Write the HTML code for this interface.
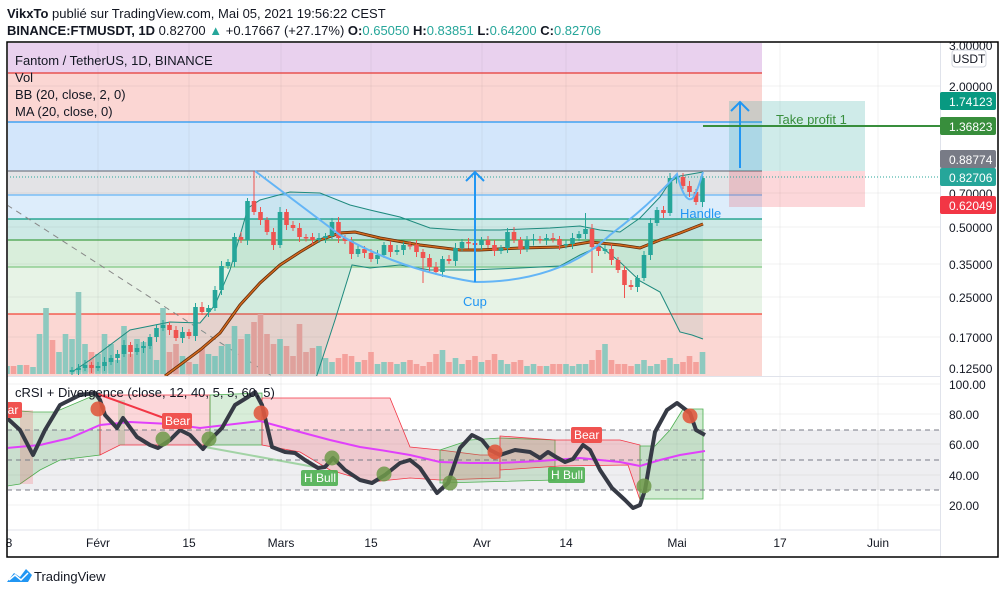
<!DOCTYPE html>
<html><head><meta charset="utf-8"><style>
body{margin:0;background:#fff;width:1006px;height:594px;overflow:hidden;font-family:"Liberation Sans",sans-serif}
svg{position:absolute;left:0;top:0}
text{font-family:"Liberation Sans",sans-serif}
</style></head><body>
<svg id="s" width="1006" height="594" viewBox="0 0 1006 594" xmlns="http://www.w3.org/2000/svg">
<defs>
<clipPath id="mp"><rect x="8" y="43" width="932" height="333"/></clipPath>
<clipPath id="rp"><rect x="8" y="377" width="932" height="153"/></clipPath>
</defs>
<text x="7" y="18" font-size="13" fill="#131722"><tspan font-weight="bold">VikxTo</tspan> publié sur TradingView.com, Mai 05, 2021 19:56:22 CEST</text>
<text x="7" y="35" font-size="13" fill="#131722"><tspan font-weight="bold">BINANCE:FTMUSDT, 1D</tspan> 0.82700 <tspan fill="#26a69a">▲</tspan> +0.17667 (+27.17%) <tspan font-weight="bold">O:</tspan><tspan fill="#26a69a">0.65050</tspan> <tspan font-weight="bold">H:</tspan><tspan fill="#26a69a">0.83851</tspan> <tspan font-weight="bold">L:</tspan><tspan fill="#26a69a">0.64200</tspan> <tspan font-weight="bold">C:</tspan><tspan fill="#26a69a">0.82706</tspan></text>

<g clip-path="url(#mp)">
<rect x="7" y="42" width="755" height="31" fill="#e9d1ee"/>
<rect x="7" y="73" width="755" height="49" fill="#fbd6d3"/>
<rect x="7" y="122" width="755" height="49" fill="#d3e6fb"/>
<rect x="7" y="171" width="755" height="24" fill="#e3e3e6"/>
<rect x="7" y="195" width="755" height="24" fill="#ddedfb"/>
<rect x="7" y="219" width="755" height="21" fill="#cde9e6"/>
<rect x="7" y="240" width="755" height="27" fill="#d9eedb"/>
<rect x="7" y="267" width="755" height="47" fill="#e7f3e6"/>
<rect x="7" y="314" width="755" height="62" fill="#fbd7d3"/>
<g stroke="#000" stroke-opacity="0.05">
<line x1="98" y1="42" x2="98" y2="376"/><line x1="189" y1="42" x2="189" y2="376"/><line x1="281" y1="42" x2="281" y2="376"/><line x1="371" y1="42" x2="371" y2="376"/><line x1="482" y1="42" x2="482" y2="376"/><line x1="566" y1="42" x2="566" y2="376"/><line x1="677" y1="42" x2="677" y2="376"/><line x1="780" y1="42" x2="780" y2="376"/><line x1="878" y1="42" x2="878" y2="376"/>
<line x1="7" y1="86" x2="940" y2="86"/><line x1="7" y1="193" x2="940" y2="193"/><line x1="7" y1="227" x2="940" y2="227"/><line x1="7" y1="264" x2="940" y2="264"/><line x1="7" y1="297" x2="940" y2="297"/><line x1="7" y1="337" x2="940" y2="337"/>
</g>
<line x1="7" y1="73" x2="762" y2="73" stroke="#e53935" stroke-width="1.2"/>
<line x1="7" y1="122" x2="762" y2="122" stroke="#2196f3" stroke-width="1.2"/>
<line x1="7" y1="171" x2="762" y2="171" stroke="#787b86" stroke-width="1.2"/>
<line x1="7" y1="195" x2="762" y2="195" stroke="#64b5f6" stroke-width="1.2"/>
<line x1="7" y1="219" x2="762" y2="219" stroke="#089981" stroke-width="1.2"/>
<line x1="7" y1="240" x2="762" y2="240" stroke="#43a047" stroke-width="1.2"/>
<line x1="7" y1="267" x2="762" y2="267" stroke="#81c784" stroke-width="1.2"/>
<line x1="7" y1="314" x2="762" y2="314" stroke="#f44336" stroke-width="1.2"/>
<rect x="729" y="101" width="136" height="70" fill="#26a69a" fill-opacity="0.22"/>
<rect x="729" y="171" width="136" height="36" fill="#f23645" fill-opacity="0.2"/>
<line x1="7" y1="177" x2="940" y2="177" stroke="#26a69a" stroke-dasharray="1,2"/>
<line x1="7" y1="205" x2="272" y2="376" stroke="#888" stroke-dasharray="6,5"/>
<g id="vol"></g>
<polygon id="bbfill" fill="#26a69a" fill-opacity="0.1"/>
<polyline id="bbu" fill="none" stroke="#1e8a7e" stroke-width="1"/>
<polyline id="bbl" fill="none" stroke="#1e8a7e" stroke-width="1"/>
<polyline id="ma0" fill="none" stroke="#5d2a0a" stroke-width="3"/>
<polyline id="ma" fill="none" stroke="#d2691e" stroke-width="1.5"/>
<g id="cd"></g>
<path d="M255 171 Q300 205 340 235 Q400 270 475 282 Q560 282 610 235 Q650 205 677 174 Q685 205 693 198 Q698 190 703 172" fill="none" stroke="#64b5f6" stroke-width="2"/>
<line x1="475" y1="282" x2="475" y2="172" stroke="#2196f3" stroke-width="2"/>
<polyline points="466,181 475,172 484,181" fill="none" stroke="#2196f3" stroke-width="2"/>
<line x1="740" y1="168" x2="740" y2="102" stroke="#2196f3" stroke-width="2"/>
<polyline points="731,111 740,102 749,111" fill="none" stroke="#2196f3" stroke-width="2"/>
<line x1="703" y1="126" x2="940" y2="126" stroke="#388e3c" stroke-width="2"/>
<text x="776" y="124" font-size="13" fill="#388e3c">Take profit 1</text>
<text x="463" y="306" font-size="13" fill="#2196f3">Cup</text>
<text x="680" y="218" font-size="13" fill="#2196f3">Handle</text>
</g>
<text x="15" y="65" font-size="13" fill="#131722">Fantom / TetherUS, 1D, BINANCE</text>
<text x="15" y="82" font-size="13" fill="#131722">Vol</text>
<text x="15" y="99" font-size="13" fill="#131722">BB (20, close, 2, 0)</text>
<text x="15" y="116" font-size="13" fill="#131722">MA (20, close, 0)</text>

<line x1="7" y1="376.5" x2="940" y2="376.5" stroke="#e0e3eb"/>
<g clip-path="url(#rp)">
<rect x="7" y="430" width="933" height="60" fill="#eeeef1"/>
<g stroke="#000" stroke-opacity="0.05">
<line x1="98" y1="376" x2="98" y2="530"/><line x1="189" y1="376" x2="189" y2="530"/><line x1="281" y1="376" x2="281" y2="530"/><line x1="371" y1="376" x2="371" y2="530"/><line x1="482" y1="376" x2="482" y2="530"/><line x1="566" y1="376" x2="566" y2="530"/><line x1="677" y1="376" x2="677" y2="530"/><line x1="780" y1="376" x2="780" y2="530"/><line x1="878" y1="376" x2="878" y2="530"/>
<line x1="7" y1="384" x2="940" y2="384"/><line x1="7" y1="414" x2="940" y2="414"/><line x1="7" y1="444" x2="940" y2="444"/><line x1="7" y1="475" x2="940" y2="475"/><line x1="7" y1="505" x2="940" y2="505"/>
</g>
<g stroke-width="0.8">
<polygon points="7,410 33,412 55,412 95,395 100,395 100,455 60,460 40,470 20,484 7,486" fill="#4caf50" fill-opacity="0.22" stroke="#4caf50"/>
<polygon points="20,410 33,410 33,484 20,484" fill="#f23645" fill-opacity="0.18"/>
<polygon points="100,395 105,395 210,395 210,445 120,445 100,455" fill="#f23645" fill-opacity="0.2" stroke="#f23645"/>
<polygon points="118,400 125,400 125,445 118,445" fill="#4caf50" fill-opacity="0.2"/>
<polygon points="210,395 262,393 262,445 210,445" fill="#4caf50" fill-opacity="0.22" stroke="#4caf50"/>
<polygon points="262,398 390,398 410,447 440,450 480,455 500,455 500,478 440,480 410,478 370,482 330,470 300,452 262,445" fill="#f23645" fill-opacity="0.2" stroke="#f23645"/>
<polygon points="440,450 470,440 500,438 555,440 555,480 480,482 440,483" fill="#4caf50" fill-opacity="0.22" stroke="#4caf50"/>
<polygon points="500,436 555,440 620,440 640,445 640,500 628,465 560,466 500,470" fill="#f23645" fill-opacity="0.2" stroke="#f23645"/>
<polygon points="640,446 655,446 670,430 683,409 703,409 703,499 640,499" fill="#4caf50" fill-opacity="0.25" stroke="#4caf50"/>
</g>
<line x1="7" y1="430" x2="940" y2="430" stroke="#787b86" stroke-dasharray="5,4"/>
<line x1="7" y1="460" x2="940" y2="460" stroke="#787b86" stroke-dasharray="5,4"/>
<line x1="7" y1="490" x2="940" y2="490" stroke="#787b86" stroke-dasharray="5,4"/>
<line x1="95" y1="393" x2="175" y2="422" stroke="#f23645" stroke-width="2"/>
<line x1="205" y1="447" x2="320" y2="468" stroke="#81c784" stroke-width="2" stroke-opacity="0.7"/>
<polyline points="7,448 40,445 70,438 100,425 130,422 170,424 200,428 260,421 300,432 330,440 360,447 380,450 410,455 440,462 470,463 500,463 540,461 580,458 620,462 640,466 660,460 680,455 705,451" fill="none" stroke="#e040fb" stroke-width="2"/>
<polyline points="7,418 20,430 33,455 45,430 60,405 80,395 95,393 100,400 105,415 117,428 123,418 137,437 150,445 158,448 170,440 180,430 190,435 203,449 210,440 222,428 235,405 248,397 255,392 262,405 272,447 285,452 295,453 305,460 318,468 325,467 333,458 345,470 360,480 372,483 385,475 400,463 410,460 420,468 437,493 448,483 460,448 472,435 482,440 490,450 500,455 515,450 530,452 540,458 548,452 556,457 565,462 573,459 583,445 590,450 600,470 612,488 625,500 633,508 640,505 645,490 655,432 667,410 677,403 690,413 696,430 705,435" fill="none" stroke="#363a45" stroke-width="4" stroke-linejoin="round"/>
<g fill="#e05a3f" fill-opacity="0.9"><circle cx="98" cy="409" r="7.5"/><circle cx="261" cy="413" r="7.5"/><circle cx="495" cy="452" r="7.5"/><circle cx="690" cy="416" r="7.5"/></g>
<g fill="#6f9a4a" fill-opacity="0.85"><circle cx="163" cy="439" r="7.5"/><circle cx="209" cy="439" r="7.5"/><circle cx="332" cy="458" r="7.5"/><circle cx="384" cy="474" r="7.5"/><circle cx="450" cy="483" r="7.5"/><circle cx="644" cy="486" r="7.5"/></g>
<rect x="0" y="402" width="22" height="16" rx="2" fill="#f05350"/><text x="1" y="414" font-size="12" fill="#fff">ear</text>
<rect x="162" y="413" width="30" height="16" rx="2" fill="#f05350"/><text x="165" y="425" font-size="12" fill="#fff">Bear</text>
<rect x="571" y="427" width="31" height="16" rx="2" fill="#f05350"/><text x="574" y="439" font-size="12" fill="#fff">Bear</text>
<rect x="301" y="470" width="37" height="16" rx="2" fill="#4caf50" fill-opacity="0.9"/><text x="304" y="482" font-size="12" fill="#fff">H Bull</text>
<rect x="548" y="467" width="37" height="16" rx="2" fill="#4caf50" fill-opacity="0.9"/><text x="551" y="479" font-size="12" fill="#fff">H Bull</text>
</g>
<text x="15" y="397" font-size="13" fill="#131722">cRSI + Divergence (close, 12, 40, 5, 5, 60, 5)</text>

<line x1="7" y1="530" x2="940" y2="530" stroke="#e0e3eb"/>
<line x1="940.5" y1="42" x2="940.5" y2="557" stroke="#e0e3eb"/>
<g font-size="12" fill="#131722" text-anchor="middle">
<text x="9" y="547">8</text><text x="98" y="547">Févr</text><text x="189" y="547">15</text><text x="281" y="547">Mars</text><text x="371" y="547">15</text><text x="482" y="547">Avr</text><text x="566" y="547">14</text><text x="677" y="547">Mai</text><text x="780" y="547">17</text><text x="878" y="547">Juin</text>
</g>
<g font-size="12" fill="#131722">
<text x="949" y="50">3.00000</text><text x="949" y="91">2.00000</text><text x="949" y="198">0.70000</text><text x="949" y="232">0.50000</text><text x="949" y="269">0.35000</text><text x="949" y="302">0.25000</text><text x="949" y="342">0.17000</text><text x="949" y="373">0.12500</text>
<text x="949" y="389">100.00</text><text x="949" y="419">80.00</text><text x="949" y="449">60.00</text><text x="949" y="480">40.00</text><text x="949" y="510">20.00</text>
</g>
<rect x="952" y="50" width="34" height="17" rx="3" fill="#fff" stroke="#d1d4dc"/><text x="969" y="63" font-size="12" text-anchor="middle" fill="#131722">USDT</text>
<g font-size="12" fill="#fff">
<rect x="940" y="92" width="56" height="18" rx="2" fill="#089981"/><text x="949" y="106">1.74123</text>
<rect x="940" y="117" width="56" height="18" rx="2" fill="#388e3c"/><text x="949" y="131">1.36823</text>
<rect x="940" y="150" width="56" height="18" rx="2" fill="#787b86"/><text x="949" y="164">0.88774</text>
<rect x="940" y="168" width="56" height="18" rx="2" fill="#26a69a"/><text x="949" y="182">0.82706</text>
<rect x="940" y="196" width="56" height="18" rx="2" fill="#f23645"/><text x="949" y="210">0.62049</text>
</g>
<rect x="7" y="42" width="991" height="515" fill="none" stroke="#000" stroke-width="1.5"/>
<path d="M7 582 L14 573 L20 577 L26 569 L32 575 L28 582 Z" fill="#2196f3"/>
<path d="M9 580 L15 575 L21 580 L28 573" fill="none" stroke="#fff" stroke-width="1.5"/>
<text x="34" y="581" font-size="13" fill="#131722">TradingView</text>
</svg>
<script>
var NS="http://www.w3.org/2000/svg";
function el(p,t,a){var e=document.createElementNS(NS,t);for(var k in a)e.setAttribute(k,a[k]);p.appendChild(e);return e;}
var C=[370,368,365,368,366,362,358,354,345,352,348,346,337,328,325,330,338,332,336,307,312,308,290,266,262,237,240,201,212,220,232,245,212,225,228,237,237,240,238,236,222,238,241,254,249,253,259,255,245,252,250,245,245,252,258,267,272,259,261,248,242,243,245,240,245,251,248,232,240,249,240,239,240,238,239,245,244,238,234,229,247,251,249,260,270,285,287,278,255,223,210,213,178,177,186,192,202,178];
var cd=document.getElementById('cd'),vol=document.getElementById('vol');
var V0=[8,8,9,9,7,40,66,34,22,40];var VC=['g','r','g','r','g','g','g','r','g','g'];
for(var j=0;j<10;j++){var xx=7+6.5*j;el(vol,'rect',{x:xx-2.8,y:374-V0[j],width:5.6,height:V0[j],fill:VC[j]=='g'?'#8ec9bf':'#f4a19c'});}
var V=[35,82,30,22,20,40,30,14,48,20,35,32,28,14,66,22,30,18,12,10,26,20,18,28,30,48,35,40,52,60,40,30,35,28,18,50,22,26,28,16,12,16,20,18,12,14,22,10,12,12,10,12,14,10,8,12,20,24,12,16,10,14,18,12,14,20,14,10,12,14,8,10,8,8,10,10,10,8,10,10,14,24,30,14,10,10,8,10,14,8,10,14,16,10,12,18,12,22,28,38,30,24,16,16,18,18,16,18,18];
var o=372;
for(var i=0;i<C.length;i++){var d=i+10,x=7+6.5*d,c=C[i];var up=c<o;var col=up?'#26a69a':'#ef5350';
var t=Math.min(o,c),b=Math.max(o,c);if(b-t<1.5){b=t+1.5;}
var hi=t-3-(i%3),lo=b+3+(i%2)*2;if(d==38)hi=171;if(d==90)lo=273;if(d==95)lo=298;if(d==64)lo=283;if(d==89)hi=213;
el(cd,'line',{x1:x,x2:x,y1:hi,y2:lo,stroke:col,'stroke-width':1});
el(cd,'rect',{x:x-2.3,y:t,width:4.6,height:b-t,fill:col});
var h=V[i]||12;el(vol,'rect',{x:x-2.8,y:374-h,width:5.6,height:h,fill:up?'#8ec9bf':'#f4a19c'});
o=c;}
var bu=[[72,372],[90,360],[130,330],[170,322],[200,323],[215,305],[230,270],[248,208],[260,200],[290,192],[320,193],[350,205],[370,210],[400,217],[430,228],[460,230],[500,230],[550,228],[580,226],[600,230],[620,232],[640,218],[660,197],[670,182],[680,176],[703,172]];
var bl=[[316,378],[335,320],[352,265],[370,268],[400,265],[430,270],[470,270],[520,268],[560,266],[580,255],[600,246],[620,262],[640,281],[660,292],[670,312],[680,332],[692,335],[703,339]];
function ps(a){return a.map(function(p){return p.join(',')}).join(' ');}
document.getElementById('bbu').setAttribute('points',ps(bu));
document.getElementById('bbl').setAttribute('points',ps(bl));
document.getElementById('bbfill').setAttribute('points',ps(bu)+' '+ps(bl.slice().reverse())+' 300,378');
var ma=[[165,376],[200,350],[220,333],[240,305],[260,283],[280,265],[300,252],[320,240],[340,233],[355,232],[380,238],[420,245],[460,250],[480,250],[520,248],[560,247],[590,242],[620,245],[640,248],[660,240],[680,233],[703,224]];
document.getElementById('ma0').setAttribute('points',ps(ma));
document.getElementById('ma').setAttribute('points',ps(ma));
</script>
</body></html>
